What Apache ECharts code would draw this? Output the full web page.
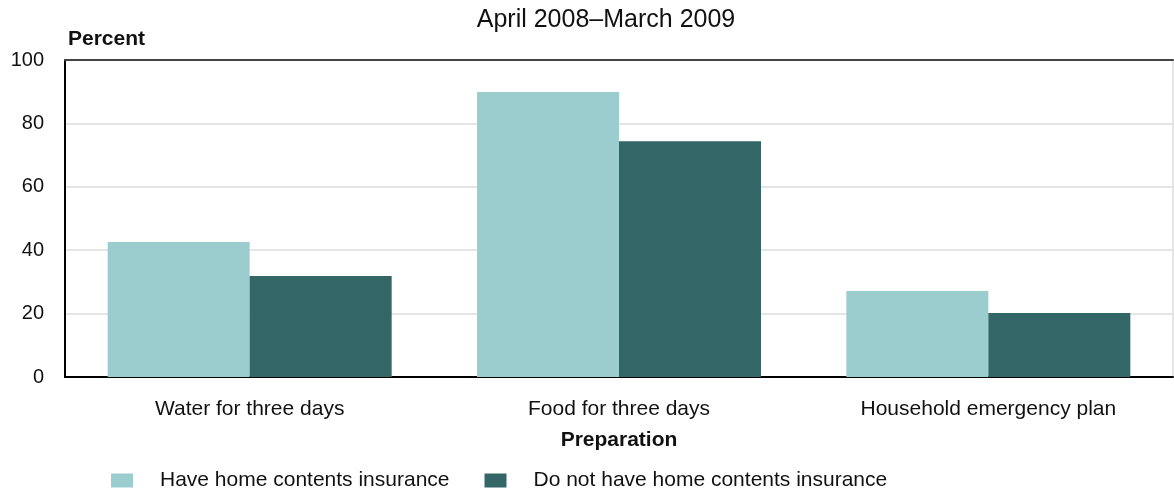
<!DOCTYPE html>
<html><head><meta charset="utf-8">
<script src="https://cdn.jsdelivr.net/npm/echarts@6/dist/echarts.min.js"></script>
<style>html,body{margin:0;padding:0;background:#fff}#c{width:1174px;height:488px}</style>
</head><body><div id="c"></div>
<script>
const categories = ['Water for three days', 'Food for three days', 'Household emergency plan'];
const haveInsurance = [42.6, 89.9, 27.1];
const noInsurance = [31.9, 74.4, 20.2];
const seriesNames = ['Have home contents insurance', 'Do not have home contents insurance'];
const titleText = 'April 2008\u2013March 2009';
const F = 'Liberation Sans, Arial, sans-serif';
const chart = echarts.init(document.getElementById('c'));
chart.setOption({
  animation: false,
  title: { text: titleText, left: 601, top: 3, textAlign: 'center', textStyle: { fontFamily: F, fontSize: 25, fontWeight: 'normal', color: '#111' } },
  graphic: [{ type: 'text', left: 68, top: 29, style: { text: 'Percent', font: 'bold 21px Liberation Sans, Arial, sans-serif', fill: '#111' } }],
  legend: { top: 465, left: 106, itemWidth: 22, itemHeight: 14, itemGap: 35, icon: 'rect',
    textStyle: { fontFamily: F, fontSize: 21, color: '#111', padding: [0, 0, 0, 22] }, data: seriesNames },
  grid: { left: 65, right: 1, top: 60, bottom: 111, show: true, borderColor: '#ccc', borderWidth: 1 },
  xAxis: [{ type: 'category', data: categories, name: 'Preparation', nameLocation: 'middle', nameGap: 53,
    nameTextStyle: { fontFamily: F, fontSize: 21, fontWeight: 'bold', color: '#111' },
    axisLine: { lineStyle: { color: '#000', width: 2 } }, axisTick: { show: false },
    axisLabel: { fontFamily: F, fontSize: 21, color: '#111', margin: 22 } },
    { type: 'category', position: 'top', data: categories, axisLine: { lineStyle: { color: '#444', width: 2 } }, axisTick: { show: false }, axisLabel: { show: false } }],
  yAxis: { type: 'value', min: 0, max: 100, interval: 20,
    axisLine: { show: true, lineStyle: { color: '#000', width: 2 } }, axisTick: { show: false },
    axisLabel: { fontFamily: F, fontSize: 20, color: '#111', margin: 21 },
    splitLine: { lineStyle: { color: '#ddd', width: 1.5 } } },
  series: [
    { name: seriesNames[0], type: 'bar', data: haveInsurance, barWidth: 142, barGap: '0%', itemStyle: { color: '#9BCDCE' } },
    { name: seriesNames[1], type: 'bar', data: noInsurance, barWidth: 142, barGap: '0%', itemStyle: { color: '#336666' } }
  ]
});
</script></body></html>
